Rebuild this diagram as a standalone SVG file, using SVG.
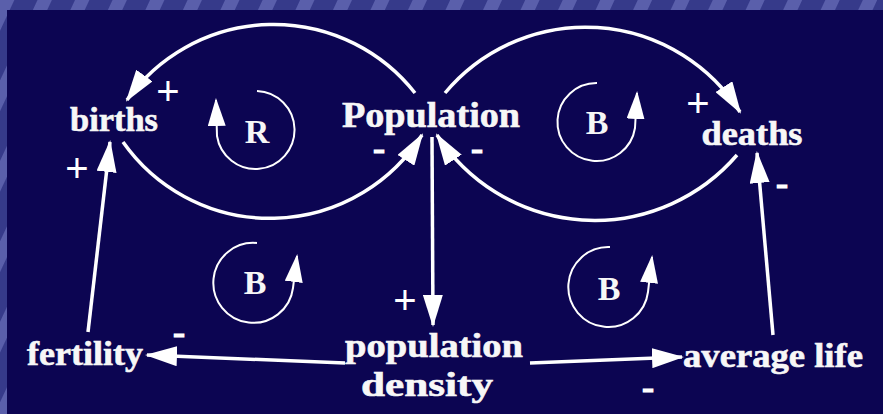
<svg xmlns="http://www.w3.org/2000/svg" width="883" height="414" viewBox="0 0 883 414">
<defs>
<pattern id="stripes" width="34" height="34" patternUnits="userSpaceOnUse" patternTransform="rotate(25)">
<rect width="34" height="34" fill="#363a8a"/>
<rect width="13" height="34" fill="#5a5fab"/>
</pattern>
<marker id="ah" markerWidth="32" markerHeight="20" refX="30" refY="10" orient="auto" markerUnits="userSpaceOnUse">
<path d="M0,0 L32,10 L0,20 z" fill="#ffffff"/>
</marker>
<marker id="ahs" markerWidth="28" markerHeight="18" refX="26" refY="9" orient="auto" markerUnits="userSpaceOnUse">
<path d="M0,0 L28,9 L0,18 z" fill="#ffffff"/>
</marker>
</defs>
<style>
.lbl{font-family:"Liberation Serif","Times New Roman",serif;font-weight:bold;fill:#f7f7f7;text-anchor:middle;stroke:#f7f7f7;stroke-width:0.6}
.loopl{font-family:"Liberation Serif","Times New Roman",serif;font-weight:bold;fill:#f7f7f7;text-anchor:middle;font-size:34px}
.plus{font-family:"Liberation Sans",Arial,sans-serif;fill:#ffffff;text-anchor:middle;font-size:40px}
.minus{font-family:"Liberation Sans",Arial,sans-serif;font-weight:bold;fill:#ffffff;text-anchor:middle;font-size:26px;stroke:#ffffff;stroke-width:1}
.conn{fill:none;stroke:#ffffff;stroke-width:3.5;marker-end:url(#ah)}
.loop{fill:none;stroke:#ffffff;stroke-width:2;marker-end:url(#ahs)}
</style>
<rect x="0" y="0" width="883" height="414" fill="url(#stripes)"/>
<rect x="7" y="10" width="876" height="404" fill="#0c0552"/>

<g id="connectors">
<path class="conn" d="M415,93 A180,180 0 0 0 127,100"/>
<path class="conn" d="M123,142 A180,180 0 0 0 422,135"/>
<path class="conn" d="M445,93 A183,183 0 0 1 740,112"/>
<path class="conn" d="M737,155 A188,188 0 0 1 437,135"/>
<path class="conn" d="M432,137 L433,325"/>
<path class="conn" d="M88,332 L110,142"/>
<path class="conn" d="M773,335 L757,153"/>
<path class="conn" d="M345,363 L147,355"/>
<path class="conn" d="M530,363 L682,357"/>
</g>

<g id="loop-R">
<path class="loop" d="M257,91 A39,39 0 1 1 217,136 L216,100"/>
<text class="loopl" x="257" y="143">R</text>
</g>
<g id="loop-B-top">
<path class="loop" d="M597,83 A39,39 0 1 0 635,128 L637,93"/>
<text class="loopl" x="597" y="134">B</text>
</g>
<g id="loop-B-left">
<path class="loop" d="M257,243 A40,40 0 1 0 293,288 L297,256"/>
<text class="loopl" x="255" y="294">B</text>
</g>
<g id="loop-B-right">
<path class="loop" d="M610,247 A40,40 0 1 0 648,292 L652,257"/>
<text class="loopl" x="609" y="300">B</text>
</g>

<g id="births"><text class="lbl" x="114" y="131" font-size="33" textLength="88" lengthAdjust="spacingAndGlyphs">births</text></g>
<g id="population"><text class="lbl" x="431" y="127" font-size="36" textLength="178" lengthAdjust="spacingAndGlyphs">Population</text></g>
<g id="deaths"><text class="lbl" x="752" y="145" font-size="33" textLength="101" lengthAdjust="spacingAndGlyphs">deaths</text></g>
<g id="fertility"><text class="lbl" x="85" y="365" font-size="33" textLength="116" lengthAdjust="spacingAndGlyphs">fertility</text></g>
<g id="population-density">
<text class="lbl" x="434" y="357" font-size="33" textLength="178" lengthAdjust="spacingAndGlyphs">population</text>
<text class="lbl" x="427" y="396" font-size="33" textLength="132" lengthAdjust="spacingAndGlyphs">density</text>
</g>
<g id="average-life"><text class="lbl" x="773" y="367" font-size="33" textLength="180" lengthAdjust="spacingAndGlyphs">average life</text></g>

<g id="signs">
<text class="plus" x="168" y="105">+</text>
<text class="plus" x="77" y="182">+</text>
<text class="plus" x="698" y="117">+</text>
<text class="plus" x="405" y="314">+</text>
<text class="minus" x="379" y="158" transform="translate(379,0) scale(1.4,1) translate(-379,0)">-</text>
<text class="minus" x="477" y="158" transform="translate(477,0) scale(1.4,1) translate(-477,0)">-</text>
<text class="minus" x="782" y="193" transform="translate(782,0) scale(1.4,1) translate(-782,0)">-</text>
<text class="minus" x="179" y="342" transform="translate(179,0) scale(1.4,1) translate(-179,0)">-</text>
<text class="minus" x="648" y="397" transform="translate(648,0) scale(1.4,1) translate(-648,0)">-</text>
</g>
</svg>
